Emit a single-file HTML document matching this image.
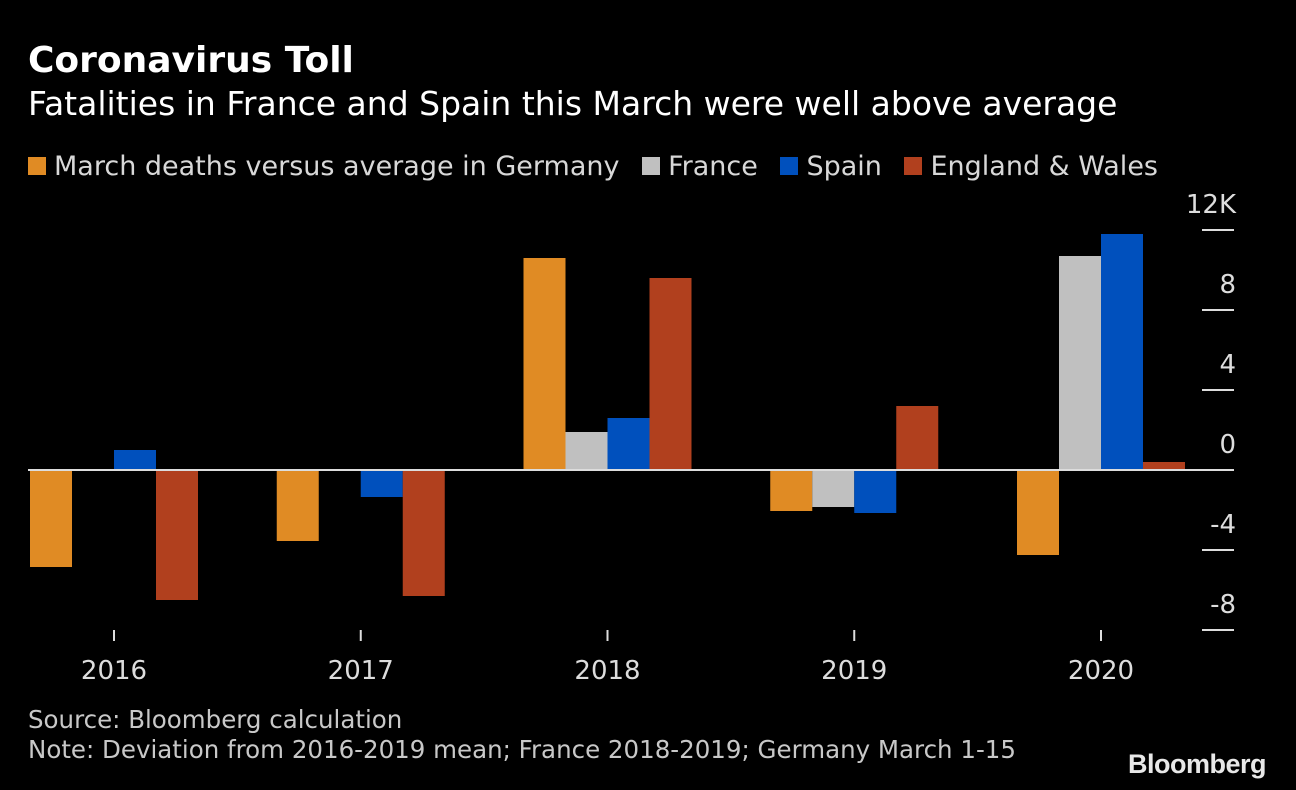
<!DOCTYPE html>
<html><head><meta charset="utf-8"><style>
body{margin:0;background:#000;width:1296px;height:790px;overflow:hidden;font-family:"DejaVu Sans","Liberation Sans",sans-serif;color:#e0e0e0}
.t{position:absolute;white-space:nowrap}
</style></head><body>
<div class="t" style="left:28px;top:40px;font-size:36px;font-weight:bold;color:#fff">Coronavirus Toll</div>
<div class="t" style="left:28px;top:84px;font-size:33px;color:#fff">Fatalities in France and Spain this March were well above average</div>
<div class="t" style="left:28px;top:151px;font-size:27px;color:#d8d8d8">
<span><span style="display:inline-block;width:18px;height:18px;background:#e08b24;margin-right:8px"></span>March deaths versus average in Germany</span>
<span style="margin-left:14px"><span style="display:inline-block;width:18px;height:18px;background:#c0c0c0;margin-right:8px"></span>France</span>
<span style="margin-left:14px"><span style="display:inline-block;width:18px;height:18px;background:#0050bd;margin-right:8px"></span>Spain</span>
<span style="margin-left:14px"><span style="display:inline-block;width:18px;height:18px;background:#b1401e;margin-right:8px"></span>England &amp; Wales</span>
</div>
<svg id="chart" width="1296" height="790" style="position:absolute;left:0;top:0"></svg>
<div class="t" style="left:28px;top:705px;font-size:24.5px;color:#c8c8c8">Source: Bloomberg calculation</div>
<div class="t" style="left:28px;top:735px;font-size:24.5px;color:#c8c8c8">Note: Deviation from 2016-2019 mean; France 2018-2019; Germany March 1-15</div>
<div class="t" style="left:1128px;top:749px;font-size:27px;font-weight:bold;color:#e8e8e8;letter-spacing:-0.5px;font-family:'Liberation Sans',sans-serif">Bloomberg</div>
<script>
const years=["2016","2017","2018","2019","2020"];
const germany=[-4.85,-3.55,10.6,-2.05,-4.25];
const france=[null,null,1.9,-1.85,10.7];
const spain=[1.0,-1.35,2.6,-2.15,11.8];
const england=[-6.5,-6.3,9.6,3.2,0.4];
const yTicks=[12,8,4,0,-4,-8];
const yTickLabels=["12K","8","4","0","-4","-8"];
const series=[germany,france,spain,england];
const colors=["#e08b24","#c0c0c0","#0050bd","#b1401e"];
const names=["germany","france","spain","england-wales"];
const svg=document.getElementById('chart');
const NS="http://www.w3.org/2000/svg";
const y=v=>470-v*20;
const x0=30,step=246.75,bw=42;
function mk(t,a){const e=document.createElementNS(NS,t);for(const k in a)e.setAttribute(k,a[k]);svg.appendChild(e);return e;}
yTicks.forEach((v,i)=>{
  if(v!==0){const l=mk('line',{x1:1202,x2:1234,y1:y(v),y2:y(v),stroke:'#ddd','stroke-width':2});
  
  }
  const t=mk('text',{x:1236,y:y(v)-17,'text-anchor':'end','font-size':26,fill:'#ddd','font-family':'DejaVu Sans, sans-serif'});
  t.textContent=yTickLabels[i];
  
  
});
years.forEach((yr,g)=>{
  series.forEach((s,k)=>{
    const v=s[g]; if(v==null)return;
    const r=mk('rect',{x:x0+g*step+k*bw,y:Math.min(y(v),y(0)),width:bw,height:Math.abs(y(v)-y(0)),fill:colors[k]});
    
    
  });
  const cx=x0+g*step+2*bw;
  const tk=mk('line',{x1:cx,x2:cx,y1:630,y2:641,stroke:'#ddd','stroke-width':2});
  
  
  const tl=mk('text',{x:cx,y:679,'text-anchor':'middle','font-size':26,fill:'#ddd','font-family':'DejaVu Sans, sans-serif'});
  tl.textContent=yr;
  
  
});
const z=mk('line',{x1:28,x2:1234,y1:y(0),y2:y(0),stroke:'#ddd','stroke-width':2});


</script>
</body></html>
